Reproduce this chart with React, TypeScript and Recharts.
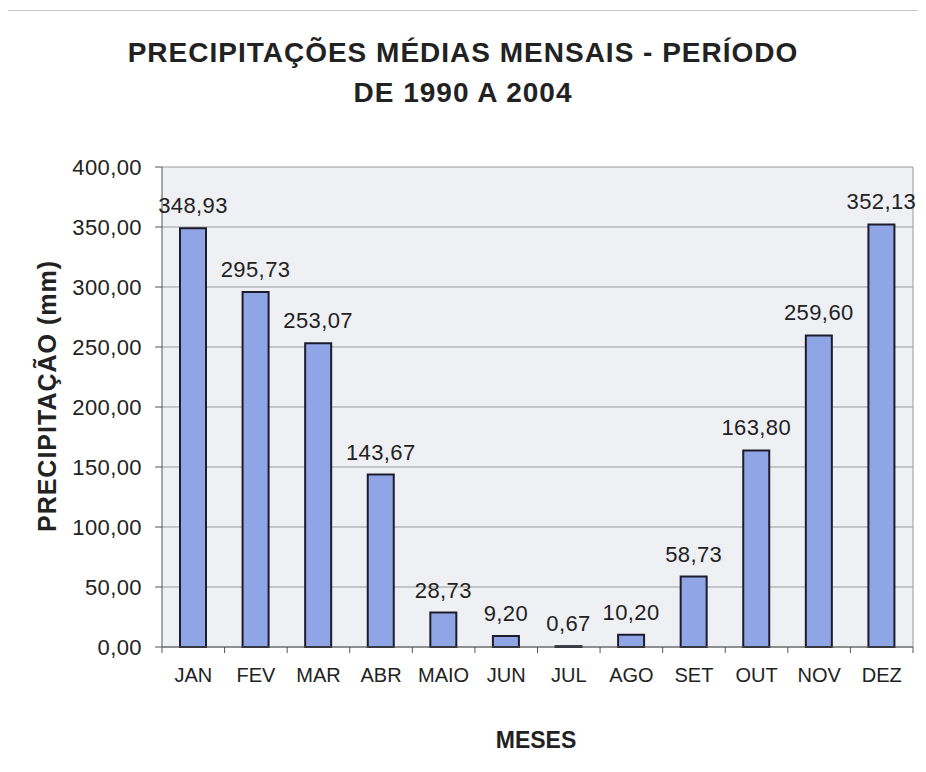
import React from 'react';
import { BarChart, Bar, XAxis, YAxis, CartesianGrid, LabelList } from 'recharts';

const months = ['JAN', 'FEV', 'MAR', 'ABR', 'MAIO', 'JUN', 'JUL', 'AGO', 'SET', 'OUT', 'NOV', 'DEZ'];
const precip = [348.93, 295.73, 253.07, 143.67, 28.73, 9.2, 0.67, 10.2, 58.73, 163.8, 259.6, 352.13];
const yTicks = [0, 50, 100, 150, 200, 250, 300, 350, 400];

const data = months.map((m, i) => ({ month: m, value: precip[i] }));
const fmt = (v: number) => v.toFixed(2).replace('.', ',');
const FONT = 'Liberation Sans, Arial, sans-serif';

const MonthTick = (props: any) => {
  const { x, y, payload, index, visibleTicksCount } = props;
  const half = payload && typeof payload.offset === 'number' ? payload.offset : 0;
  const isLast = visibleTicksCount ? index === visibleTicksCount - 1 : index === months.length - 1;
  return (
    <g>
      <line x1={x - half} x2={x - half} y1={y} y2={y + 6} stroke="#555" strokeWidth={1} />
      {isLast && <line x1={x + half} x2={x + half} y1={y} y2={y + 6} stroke="#555" strokeWidth={1} />}
      <text x={x} y={y + 35} textAnchor="middle" fill="#222" fontSize={20} fontFamily={FONT}>
        {payload.value}
      </text>
    </g>
  );
};

const YLabel = (props: any) => {
  const vb = props.viewBox || {};
  const cx = vb.x - 35;
  const cy = vb.y + vb.height / 2 - 11;
  return (
    <text
      x={cx}
      y={cy}
      transform={`rotate(-90, ${cx}, ${cy})`}
      textAnchor="middle"
      dominantBaseline="central"
      fontWeight="bold"
      fontSize={25}
      letterSpacing={1}
      fill="#222"
      fontFamily={FONT}
    >
      PRECIPITAÇÃO (mm)
    </text>
  );
};

export default function App() {
  return (
    <div style={{ position: 'relative', width: 918, height: 764, fontFamily: FONT, background: '#fff' }}>
      <div style={{ position: 'absolute', left: -1, top: 2, right: 0, bottom: 0, borderTop: '1px solid #c8c8c8', borderLeft: '1px solid #c8c8c8' }} />
      <div style={{ position: 'absolute', left: 0, width: 910, top: 25, textAlign: 'center', fontWeight: 'bold', fontSize: 28, letterSpacing: 1, lineHeight: '40px', color: '#222' }}>
        PRECIPITAÇÕES MÉDIAS MENSAIS - PERÍODO<br />DE 1990 A 2004
      </div>
      <div style={{ position: 'absolute', left: 328, width: 400, top: 719, textAlign: 'center', fontWeight: 'bold', fontSize: 23, color: '#222' }}>
        MESES
      </div>
      <BarChart
        width={918}
        height={764}
        data={data}
        margin={{ top: 159, right: 13, left: 74, bottom: 95 }}
        barSize={26}
        style={{ position: 'absolute', left: 0, top: 0 }}
      >
        <CartesianGrid
          stroke="#9a9a9a"
          fill="#eef0f3"
          verticalCoordinatesGenerator={({ offset }: any) => [offset.left + offset.width]}
        />
        <XAxis
          dataKey="month"
          interval={0}
          tick={<MonthTick />}
          tickLine={false}
          tickSize={0}
          tickMargin={0}
          axisLine={{ stroke: '#555' }}
          height={30}
        />
        <YAxis
          domain={[0, 400]}
          ticks={yTicks}
          tickFormatter={fmt}
          width={80}
          axisLine={{ stroke: '#555' }}
          tickLine={{ stroke: '#555' }}
          tickSize={7}
          tickMargin={13}
          tick={{ fill: '#222', fontSize: 22, fontFamily: FONT, letterSpacing: 0.4 }}
          label={<YLabel />}
        />
        <Bar dataKey="value" fill="#90a5e6" stroke="#1c1c2c" strokeWidth={2} isAnimationActive={false}>
          <LabelList
            dataKey="value"
            position="top"
            offset={15}
            formatter={(v: number) => fmt(v)}
            style={{ fill: '#222', fontSize: 22, fontFamily: FONT, letterSpacing: 0.4 }}
          />
        </Bar>
      </BarChart>
    </div>
  );
}
